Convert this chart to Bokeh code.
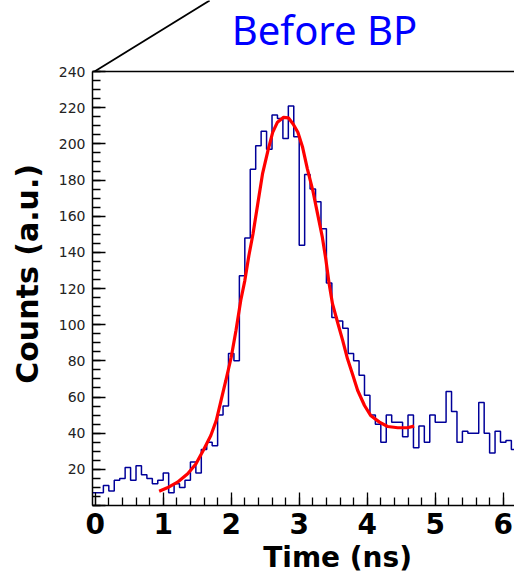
from bokeh.plotting import figure
from bokeh.models import Range1d, FixedTicker
from bokeh.embed import file_html
from bokeh.resources import INLINE
from bokeh.core.properties import value

# ---------------- data ----------------
BIN_START = -0.04
BIN_WIDTH = 0.08
counts = [7, 7, 11, 8, 14, 15, 21, 14, 22, 17, 15, 12, 14, 18, 7, 12, 10, 14, 24, 18,
          31, 35, 33, 50, 55, 84, 80, 127, 148, 186, 199, 207, 197, 216, 214, 203, 221, 204,
          144, 183, 175, 168, 153, 123, 104, 102, 98, 84, 80, 72, 61, 50, 45, 35, 50, 46,
          46, 38, 50, 32, 44, 35, 50, 46, 46, 63, 52, 35, 41, 40, 40, 57, 40, 29, 41, 35,
          36, 31]

fit_t = [0.94, 1.06, 1.21, 1.36, 1.48, 1.60, 1.70, 1.78, 1.85, 1.92, 2.00, 2.07, 2.14,
         2.20, 2.26, 2.32, 2.39, 2.46, 2.54, 2.61, 2.68, 2.77, 2.84, 2.91, 2.98, 3.05,
         3.12, 3.20, 3.27, 3.34, 3.39, 3.44, 3.49, 3.57, 3.64, 3.71, 3.79, 3.86, 3.96,
         4.05, 4.18, 4.30, 4.45, 4.59, 4.69]
fit_v = [7.9, 9.8, 12.9, 17.5, 23.0, 31.3, 38.7, 47.0, 58.0, 69.0, 82.0, 96.8, 113.4,
         124.4, 138.3, 150.2, 166.8, 183.4, 196.3, 206.4, 212.0, 214.7, 214.4, 211.0,
         206.4, 198.1, 186.2, 174.2, 161.3, 148.4, 136.5, 122.6, 111.5, 100.5, 91.2,
         81.1, 71.9, 63.6, 55.3, 49.8, 46.1, 43.7, 43.0, 43.0, 43.9]

x_ticks = [0, 1, 2, 3, 4, 5, 6]
x_minor = [round(0.2 * i, 1) for i in range(0, 31)]
y_ticks = list(range(0, 241, 20))
y_minor = list(range(0, 241, 5))

title_text = "Before BP"
x_label = "Time (ns)"
y_label = "Counts (a.u.)"

# ---------------- layout / decoration constants ----------------
NBSP = "\u00a0"
X_MIN, X_MAX = -0.04, 6.166
Y_MIN, Y_MAX = 0, 279.3
FRAME_TOP = 240
DIAG_X0, DIAG_X1, DIAG_Y1 = -0.01, 1.683, 279.3
TITLE_X, TITLE_Y = 3.372, 263.0

p = figure(width=514, height=577, output_backend="svg", toolbar_location=None,
           x_range=Range1d(X_MIN, X_MAX), y_range=Range1d(Y_MIN, Y_MAX),
           min_border_left=92, min_border_right=0, min_border_top=0,
           min_border_bottom=72)
p.outline_line_color = None
p.grid.visible = False
p.background_fill_color = "white"
p.border_fill_color = "white"

# histogram (step)
edges = [BIN_START + BIN_WIDTH * i for i in range(len(counts) + 1)]
p.step(edges, counts + [counts[-1]], mode="after", line_color="#000099", line_width=1.5)

# fit curve
p.line(fit_t, fit_v, line_color="#ff0000", line_width=3.2)

# frame top line and diagonal decoration
p.segment(x0=[X_MIN], y0=[FRAME_TOP], x1=[X_MAX], y1=[FRAME_TOP],
          line_color="black", line_width=1.6)
p.segment(x0=[DIAG_X0], y0=[FRAME_TOP], x1=[DIAG_X1], y1=[DIAG_Y1],
          line_color="black", line_width=1.8)

# title
p.text(x=[TITLE_X], y=[TITLE_Y], text=[title_text], text_font=value("Noto Sans"),
       text_font_size="40px", text_color="#0000ff", text_align="center",
       text_baseline="alphabetic")

# x axis
xa = p.xaxis[0]
xa.ticker = FixedTicker(ticks=x_ticks, minor_ticks=x_minor)
xa.axis_label = NBSP * 7 + x_label
xa.axis_label_text_font = "DejaVu Sans"
xa.axis_label_text_font_style = "bold"
xa.axis_label_text_font_size = "28px"
xa.axis_label_text_color = "black"
xa.axis_label_standoff = 4
xa.major_label_text_font = "DejaVu Sans"
xa.major_label_text_font_style = "bold"
xa.major_label_text_font_size = "28px"
xa.major_label_text_color = "black"
xa.major_label_standoff = 7
xa.major_tick_in = 13
xa.major_tick_out = 0
xa.minor_tick_in = 8
xa.minor_tick_out = 0
xa.axis_line_width = 1.5
xa.major_tick_line_width = 1.3
xa.minor_tick_line_width = 1.3

# y axis
ya = p.yaxis[0]
ya.ticker = FixedTicker(ticks=y_ticks, minor_ticks=y_minor)
ya.bounds = (0, 240)
ya.major_label_overrides = {0: ""}
ya.axis_label = y_label + NBSP * 4
ya.axis_label_text_font = "DejaVu Sans"
ya.axis_label_text_font_style = "bold"
ya.axis_label_text_font_size = "30px"
ya.axis_label_text_color = "black"
ya.axis_label_standoff = 11
ya.major_label_text_font = "DejaVu Sans"
ya.major_label_text_font_size = "14px"
ya.major_label_text_color = "#222222"
ya.major_label_standoff = 7
ya.major_tick_in = 13
ya.major_tick_out = 0
ya.minor_tick_in = 8
ya.minor_tick_out = 0
ya.axis_line_width = 1.5
ya.major_tick_line_width = 1.3
ya.minor_tick_line_width = 1.3

open("out.html", "w").write(file_html(p, INLINE))
